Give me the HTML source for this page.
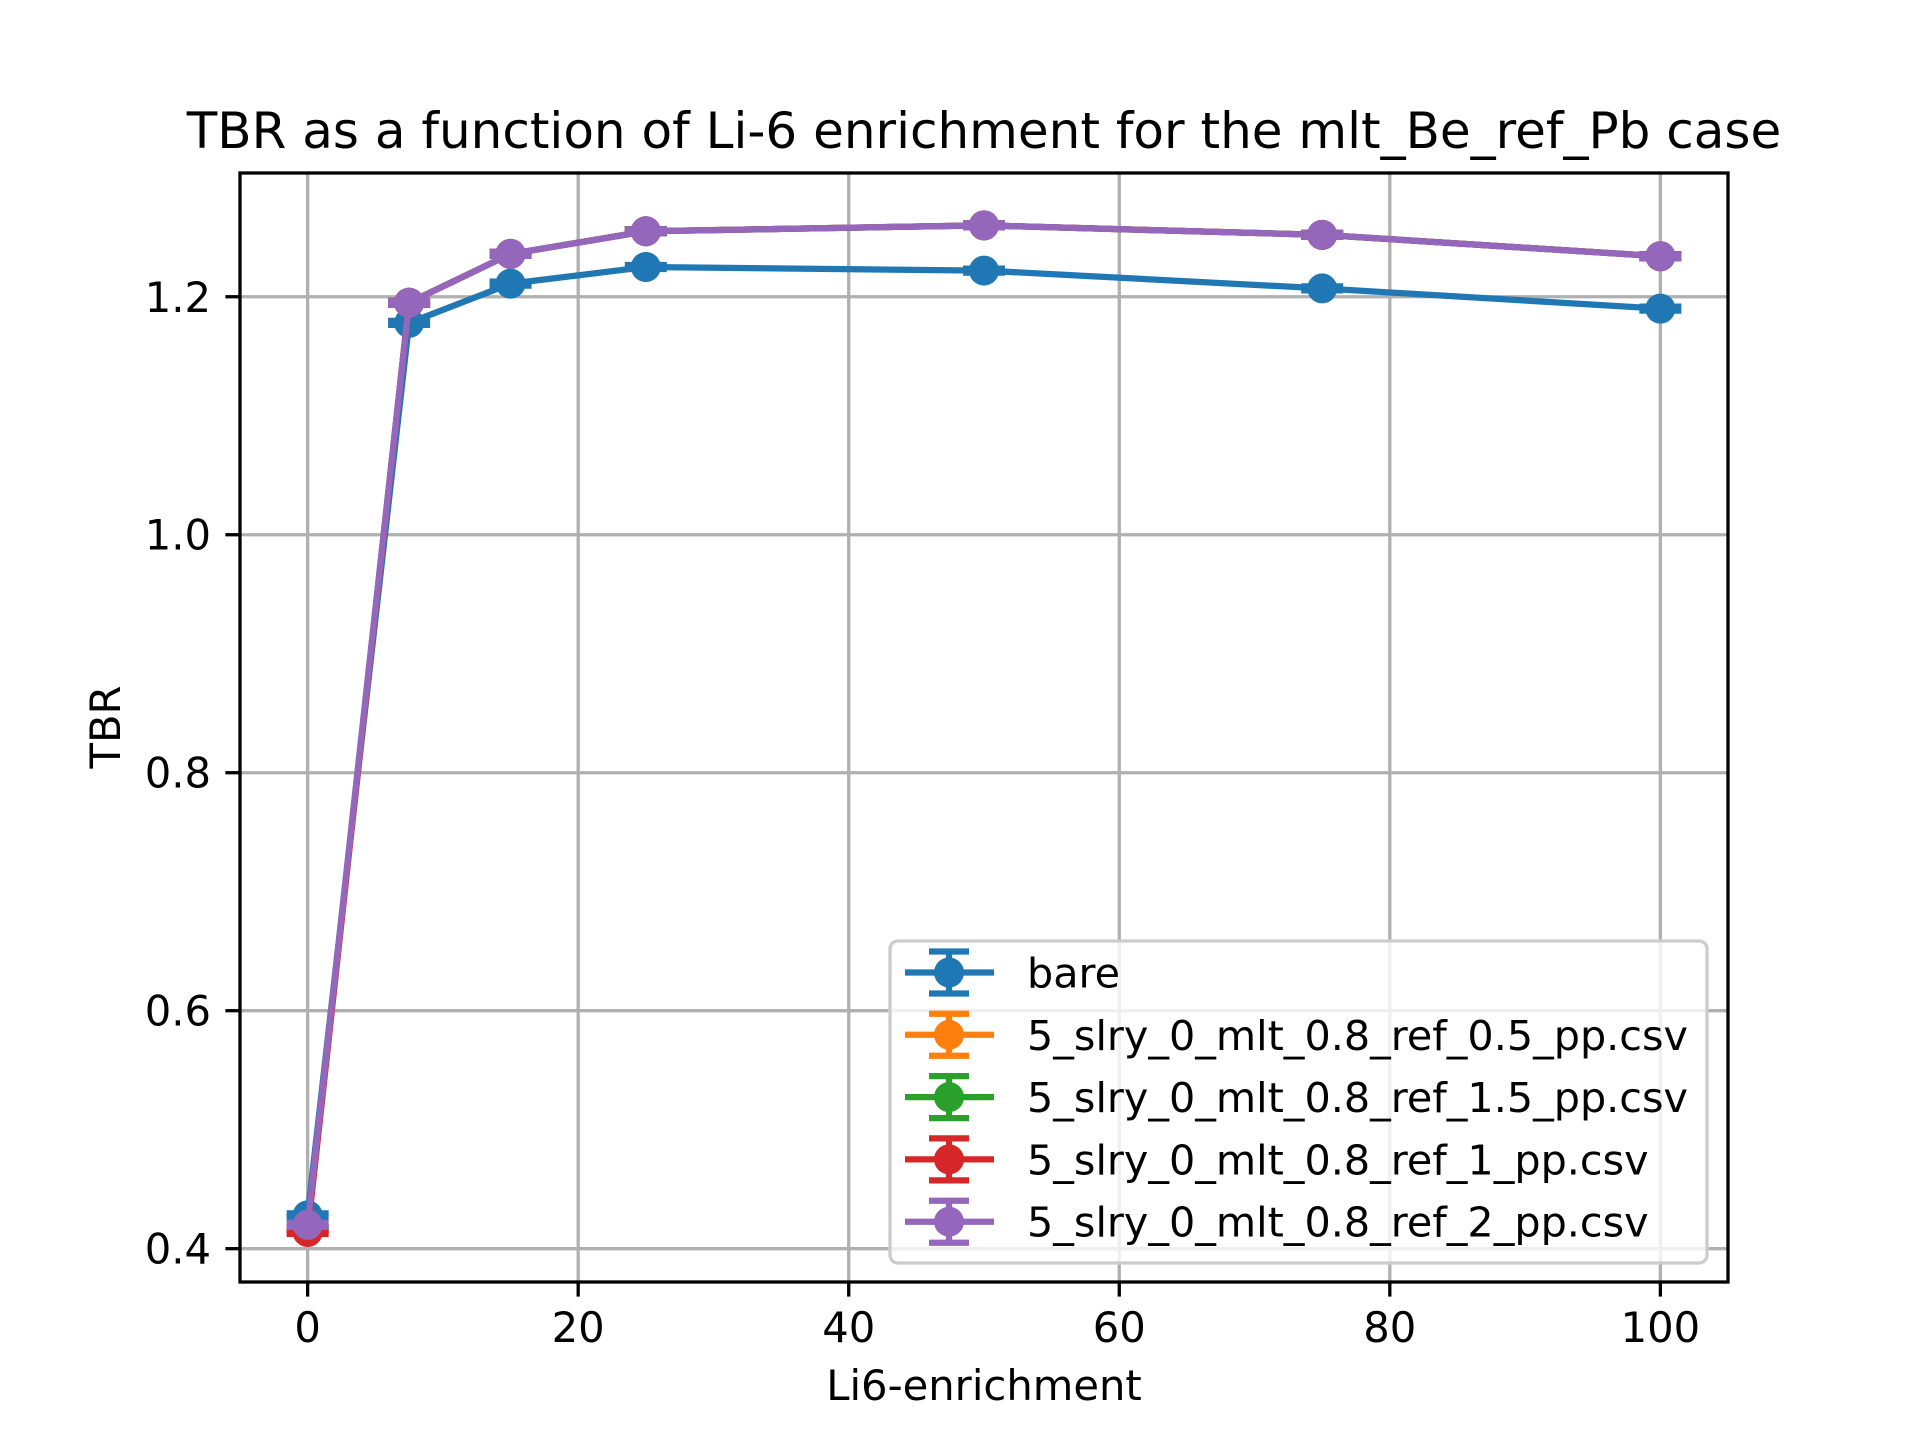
<!DOCTYPE html>
<html><head><meta charset="utf-8"><style>
html,body{margin:0;padding:0;background:#fff}
svg{display:block}
text{font-family:"DejaVu Sans","Liberation Sans",sans-serif;fill:#000}
</style></head><body>
<svg id="chart" width="1920" height="1440" viewBox="0 0 1920 1440" xmlns="http://www.w3.org/2000/svg"></svg>
<script>
const xValues = [0, 7.5, 15, 25, 50, 75, 100];
const seriesNames = ["bare","5_slry_0_mlt_0.8_ref_0.5_pp.csv","5_slry_0_mlt_0.8_ref_1.5_pp.csv","5_slry_0_mlt_0.8_ref_1_pp.csv","5_slry_0_mlt_0.8_ref_2_pp.csv"];
const seriesColors = ["#1f77b4","#ff7f0e","#2ca02c","#d62728","#9467bd"];
const bareValues = [0.428, 1.178, 1.211, 1.225, 1.222, 1.207, 1.190];
const ref05Values = [0.416, 1.195, 1.236, 1.255, 1.260, 1.252, 1.234];
const ref15Values = [0.417, 1.195, 1.236, 1.255, 1.260, 1.252, 1.234];
const ref1Values = [0.414, 1.195, 1.236, 1.255, 1.260, 1.252, 1.234];
const ref2Values = [0.420, 1.195, 1.236, 1.255, 1.260, 1.252, 1.234];
const xTicks = [0, 20, 40, 60, 80, 100];
const yTicks = [0.4, 0.6, 0.8, 1.0, 1.2];
const yTickLabels = ["0.4","0.6","0.8","1.0","1.2"];
const allSeries = [bareValues, ref05Values, ref15Values, ref1Values, ref2Values];

const NS = "http://www.w3.org/2000/svg";
const svg = document.getElementById("chart");
const L = 240, R = 1728, T = 173, B = 1282;
const xMin = -5, xMax = 105, yMin = 0.372, yMax = 1.304;
function xs(v){ return L + (v - xMin) / (xMax - xMin) * (R - L); }
function ys(v){ return B - (v - yMin) / (yMax - yMin) * (B - T); }
function mk(tag, attrs, parent){ const e = document.createElementNS(NS, tag); for (const k in attrs) e.setAttribute(k, attrs[k]); (parent || svg).appendChild(e); return e; }

const grid = mk("g", {});


xTicks.forEach(t => { mk("line", {x1: xs(t), x2: xs(t), y1: T, y2: B, stroke: "#b0b0b0", "stroke-width": 3.3}, grid); });
yTicks.forEach(t => { mk("line", {x1: L, x2: R, y1: ys(t), y2: ys(t), stroke: "#b0b0b0", "stroke-width": 3.3}, grid); });

allSeries.forEach((vals, si) => {
  const g = mk("g", {});
  
  
  const c = seriesColors[si];
  const pts = vals.map((v, i) => xs(xValues[i]) + "," + ys(vals[i])).join(" ");
  mk("polyline", {points: pts, fill: "none", stroke: c, "stroke-width": 6.25, "stroke-linejoin": "round"}, g);
  vals.forEach((v, i) => {
    const x = xs(xValues[i]), y = ys(v);
    mk("line", {x1: x - 21, x2: x + 21, y1: y + 2, y2: y + 2, stroke: c, "stroke-width": 6.25}, g);
    mk("line", {x1: x - 21, x2: x + 21, y1: y - 2, y2: y - 2, stroke: c, "stroke-width": 6.25}, g);
    const p = mk("circle", {cx: x, cy: y, r: 15, fill: c}, g);
    
    
  });
});

mk("rect", {x: L, y: T, width: R - L, height: B - T, fill: "none", stroke: "#000", "stroke-width": 3.3});

xTicks.forEach(t => {
  mk("line", {x1: xs(t), x2: xs(t), y1: B, y2: B + 14.6, stroke: "#000", "stroke-width": 3.3});
  const tx = mk("text", {x: xs(t), y: B + 60, "text-anchor": "middle", "font-size": 41.7});
  tx.textContent = String(t);
  
  
});
yTicks.forEach((t, i) => {
  mk("line", {x1: L - 14.6, x2: L, y1: ys(t), y2: ys(t), stroke: "#000", "stroke-width": 3.3});
  const tx = mk("text", {x: L - 29, y: ys(t) + 15, "text-anchor": "end", "font-size": 41.7});
  tx.textContent = yTickLabels[i];
  
  
});

const lg = mk("g", {});


mk("rect", {x: 890, y: 941, width: 817, height: 322, rx: 8, fill: "#fff", "fill-opacity": 0.8, stroke: "#cccccc", "stroke-width": 3.3}, lg);
seriesNames.forEach((n, i) => {
  const y = 972.5 + i * 62.3;
  const c = seriesColors[i];
  const e = mk("g", {}, lg);
  
  
  mk("line", {x1: 905, x2: 994, y1: y, y2: y, stroke: c, "stroke-width": 6.25}, e);
  mk("line", {x1: 949, x2: 949, y1: y - 21, y2: y + 21, stroke: c, "stroke-width": 6.25}, e);
  mk("line", {x1: 929, x2: 969, y1: y - 21, y2: y - 21, stroke: c, "stroke-width": 6.25}, e);
  mk("line", {x1: 929, x2: 969, y1: y + 21, y2: y + 21, stroke: c, "stroke-width": 6.25}, e);
  mk("circle", {cx: 949, cy: y, r: 15, fill: c}, e);
  const t = mk("text", {x: 1027, y: y + 15, "font-size": 41.3}, e);
  t.textContent = n;
});
</script>
<div style="position:absolute;left:0;top:0;width:1920px;height:1440px;pointer-events:none">
<svg width="1920" height="1440" xmlns="http://www.w3.org/2000/svg">
<text x="984" y="148" text-anchor="middle" font-size="50" style="font-family:'DejaVu Sans','Liberation Sans',sans-serif">TBR as a function of Li-6 enrichment for the mlt_Be_ref_Pb case</text>
<text x="984" y="1400" text-anchor="middle" font-size="41.7" style="font-family:'DejaVu Sans','Liberation Sans',sans-serif">Li6-enrichment</text>
<text x="120" y="727" text-anchor="middle" font-size="41.7" transform="rotate(-90 120 727)" style="font-family:'DejaVu Sans','Liberation Sans',sans-serif">TBR</text>
</svg></div>
</body></html>
